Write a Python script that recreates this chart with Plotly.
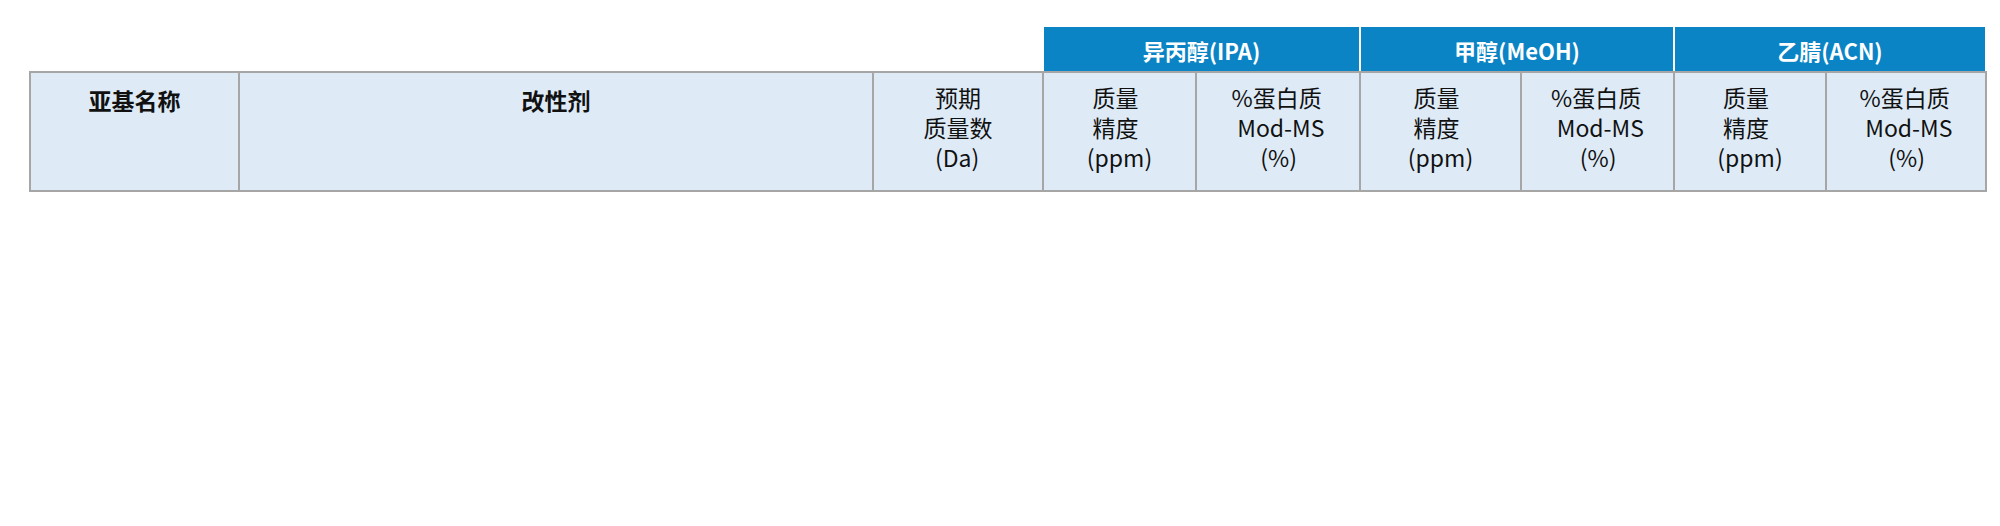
import plotly.graph_objects as go

# data
subunits = ["NISTmAb LC", "NISTmAb LC", "NISTmAb Fc", "NISTmAb Fc", "NISTmAb Fc", "NISTmAb Fd", "NISTmAb Fd"]
modifiers = ["", "糖化(1)", "G0F N(1)", "G1F N(1)", "G2F N(1)", "N端形成焦谷氨酸Q (1)", "N端形成焦谷氨酸Q (1)，糖化(1)"]
expected_mass = ["23127.6", "23289.4", "25236.0", "25398.1", "25560.3", "25689.0", "25850.7"]
ipa_ppm = ["3.5", "-5.2", "2.4", "4.2", "3.1", "5.7", "-8.6"]
ipa_pct = ["96.1", "3.9", "41.7", "46.5", "11.8", "96.8", "3.2"]
meoh_ppm = ["4.3", "-9.4", "2", "2.3", "1.8", "8.2", "-12.6"]
meoh_pct = ["95.7", "3.8", "41.9", "46.7", "11.0", "97.3", "2.7"]
acn_ppm = ["4.5", "-11.2", "4.2", "3.2", "5.9", "8.7", "-13.5"]
acn_pct = ["96.0", "4.0", "41.2", "47.3", "11.5", "97.2", "2.8"]

groups = ["", "<b>异丙醇(IPA)</b>", "<b>甲醇(MeOH)</b>", "<b>乙腈(ACN)</b>"]

# multi-line header cells; small unicode spaces centre the shorter lines
ppm_hdr = "\u2005质量<br>\u2005精度<br>(ppm)"
pct_hdr = "%蛋白质<br>\u2005Mod-MS<br>\u2003\u2005(%)"
headers = ["<br><b>亚基名称</b>", "<br><b>改性剂</b>", "\u2002预期<br>质量数<br>\u2002(Da)",
           ppm_hdr, pct_hdr, ppm_hdr, pct_hdr, ppm_hdr, pct_hdr]

W, H = 2000, 526
col_w = [209, 634, 170, 153, 164, 161, 153, 152, 160]
font = "Noto Sans CJK SC, Roboto, sans-serif"
grey = "#a6a6a6"

row_fill = ["#f2f2f4" if i % 2 == 0 else "white" for i in range(len(subunits))]

x0, x1 = 22 / W, 1978 / W

top_tbl = go.Table(
    domain=dict(x=[x0, x1], y=[1 - 66 / H, 1 - 18 / H]),
    columnwidth=[sum(col_w[:3]), sum(col_w[3:5]), sum(col_w[5:7]), sum(col_w[7:9])],
    header=dict(
        values=groups,
        height=46,
        fill_color=["white", "#0b84c6", "#0b84c6", "#0b84c6"],
        line=dict(color=["white", "white", "white", "white"], width=2),
        font=dict(family=font, size=22, color="white"),
        align="center",
    ),
)

main_tbl = go.Table(
    domain=dict(x=[x0, x1], y=[0, 1 - 64 / H]),
    columnwidth=col_w,
    header=dict(
        values=headers,
        height=119,
        fill_color="#deebf7",
        line=dict(color=grey, width=2),
        font=dict(family=font, size=23, color="#111111"),
        align="center",
    ),
    cells=dict(
        values=[subunits, modifiers, expected_mass, ipa_ppm, ipa_pct,
                meoh_ppm, meoh_pct, acn_ppm, acn_pct],
        height=45.6,
        fill_color=[row_fill] * 9,
        line=dict(color=grey, width=2),
        font=dict(family=font, size=23, color="#222222"),
        align="center",
    ),
)

fig = go.Figure([top_tbl, main_tbl])
fig.update_layout(width=W, height=H, margin=dict(l=0, r=0, t=0, b=0),
                  paper_bgcolor="white")
fig.write_html("out.html")
